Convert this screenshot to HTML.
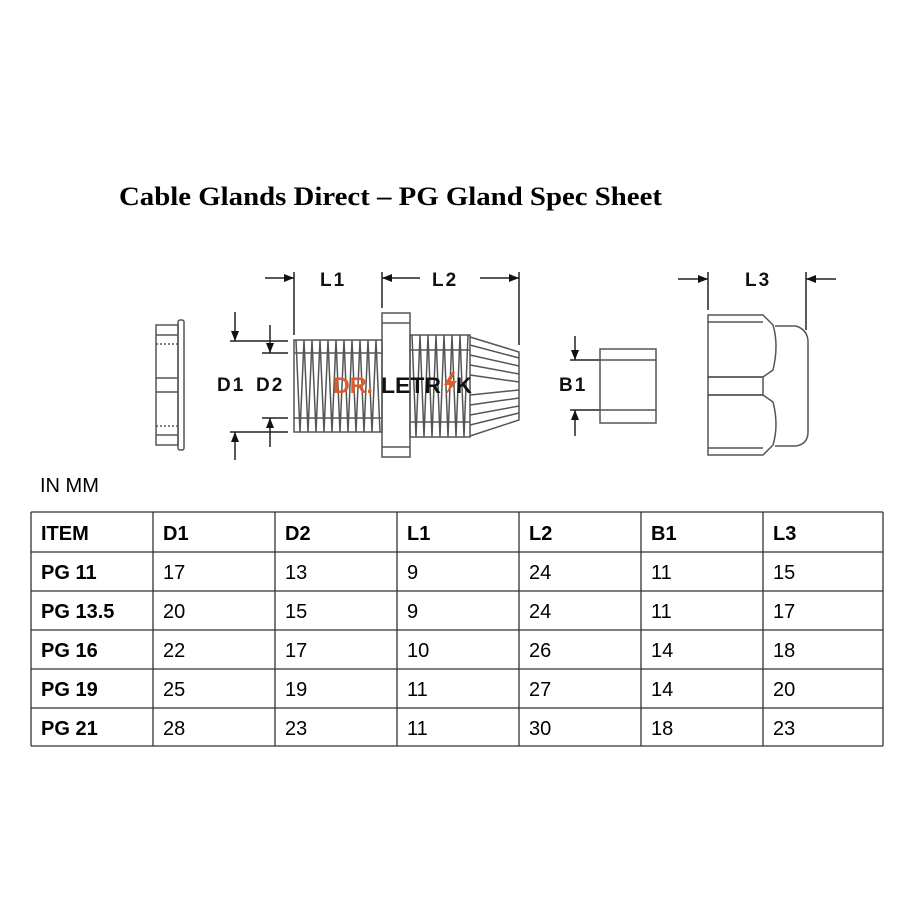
<!DOCTYPE html>
<html><head><meta charset="utf-8"><style>
html,body{margin:0;padding:0;background:#fff;}
svg{display:block;}
.t{font-family:"Liberation Sans",Arial,sans-serif;font-size:20px;fill:#000;}
.b{font-weight:bold;}
.d{font-family:"Liberation Sans",Arial,sans-serif;font-size:19px;font-weight:bold;fill:#111;letter-spacing:2px;}
</style></head><body>
<svg width="910" height="910" viewBox="0 0 910 910" xmlns="http://www.w3.org/2000/svg">
<rect width="910" height="910" fill="#fff"/>
<text x="119" y="205" font-family="Liberation Serif,serif" font-weight="bold" font-size="26" textLength="543" lengthAdjust="spacingAndGlyphs">Cable Glands Direct – PG Gland Spec Sheet</text>

<g stroke="#555" stroke-width="1.5" fill="none">
<rect x="156" y="325" width="22" height="120"/>
<rect x="178" y="320" width="6" height="130" rx="2"/>
<line x1="156" y1="335" x2="178" y2="335"/><line x1="156" y1="435" x2="178" y2="435"/>
<line x1="156" y1="378" x2="178" y2="378"/><line x1="156" y1="392" x2="178" y2="392"/>
<line x1="156" y1="344" x2="178" y2="344" stroke-dasharray="2,2"/><line x1="156" y1="426" x2="178" y2="426" stroke-dasharray="2,2"/>
<rect x="294" y="340" width="88" height="92"/>
<line x1="294" y1="353" x2="382" y2="353"/><line x1="294" y1="418" x2="382" y2="418"/>
<path d="M296 340 L300 432 L304 340 L308 432 L312 340 L316 432 L320 340 L324 432 L328 340 L332 432 L336 340 L340 432 L344 340 L348 432 L352 340 L356 432 L360 340 L364 432 L368 340 L372 432 L376 340 L380 432"/>
<rect x="382" y="313" width="28" height="144"/>
<line x1="382" y1="323" x2="410" y2="323"/><line x1="382" y1="447" x2="410" y2="447"/>
<rect x="410" y="335" width="60" height="102"/>
<line x1="410" y1="350" x2="470" y2="350"/><line x1="410" y1="422" x2="470" y2="422"/>
<path d="M412 335 L416 437 L420 335 L424 437 L428 335 L432 437 L436 335 L440 437 L444 335 L448 437 L452 335 L456 437 L460 335 L464 437 L468 335"/>
<path d="M470 337 L519 352 L519 420 L470 436"/>
<path d="M470 345 L519 358 M470 355 L519 366 M470 365 L519 374 M470 375 L519 382 M470 395 L519 390 M470 405 L519 398 M470 415 L519 406 M470 425 L519 413"/>
<g stroke="#222">
<line x1="294" y1="272" x2="294" y2="335"/><line x1="382" y1="272" x2="382" y2="308"/><line x1="519" y1="272" x2="519" y2="345"/>
<line x1="265" y1="278" x2="294" y2="278"/><line x1="382" y1="278" x2="420" y2="278"/><line x1="480" y1="278" x2="519" y2="278"/>
<line x1="230" y1="341" x2="288" y2="341"/><line x1="230" y1="432" x2="288" y2="432"/>
<line x1="262" y1="353" x2="288" y2="353"/><line x1="262" y1="418" x2="288" y2="418"/>
<line x1="235" y1="312" x2="235" y2="341"/><line x1="235" y1="432" x2="235" y2="460"/>
<line x1="270" y1="325" x2="270" y2="353"/><line x1="270" y1="418" x2="270" y2="447"/>
<line x1="570" y1="360" x2="600" y2="360"/><line x1="570" y1="410" x2="600" y2="410"/>
<line x1="575" y1="336" x2="575" y2="360"/><line x1="575" y1="410" x2="575" y2="436"/>
<line x1="708" y1="272" x2="708" y2="310"/><line x1="806" y1="272" x2="806" y2="330"/>
<line x1="678" y1="279" x2="708" y2="279"/><line x1="806" y1="279" x2="836" y2="279"/>
</g>
<rect x="600" y="349" width="56" height="74"/>
<line x1="600" y1="360" x2="656" y2="360"/><line x1="600" y1="410" x2="656" y2="410"/>
<path d="M708 315 L763 315 L773 325 Q779 345 773 370 L763 377 L708 377 Z"/>
<path d="M708 395 L763 395 L773 402 Q779 425 773 445 L763 455 L708 455 Z"/>
<rect x="708" y="377" width="55" height="18"/>
<line x1="708" y1="322" x2="763" y2="322"/><line x1="708" y1="448" x2="763" y2="448"/>
<path d="M775 326 L796 326 Q808 330 808 342 L808 432 Q808 444 796 446 L775 446"/>
</g>
<g fill="#111">
<polygon points="294,278 284,274 284,282"/><polygon points="382,278 392,274 392,282"/><polygon points="519,278 509,274 509,282"/>
<polygon points="235,341 231,331 239,331"/><polygon points="235,432 231,442 239,442"/>
<polygon points="270,353 266,343 274,343"/><polygon points="270,418 266,428 274,428"/>
<polygon points="575,360 571,350 579,350"/><polygon points="575,410 571,420 579,420"/>
<polygon points="708,279 698,275 698,283"/><polygon points="806,279 816,275 816,283"/>
</g>
<text class="d" x="320" y="286">L1</text><text class="d" x="432" y="286">L2</text><text class="d" x="745" y="286">L3</text>
<text class="d" x="217" y="391">D1</text><text class="d" x="256" y="391">D2</text>
<text class="d" x="559" y="391">B1</text>
<text x="333" y="393" font-family="Liberation Sans,sans-serif" font-weight="bold" font-size="22" fill="#e05a2a" textLength="40" lengthAdjust="spacingAndGlyphs">DR.</text>
<text x="381" y="393" font-family="Liberation Sans,sans-serif" font-weight="bold" font-size="22" fill="#111" textLength="60" lengthAdjust="spacingAndGlyphs">LETR</text>
<polygon points="452,372 444,385 450,385 445,396 457,381 451,381 455,372" fill="#e05a2a"/>
<text x="456" y="393" font-family="Liberation Sans,sans-serif" font-weight="bold" font-size="22" fill="#111">K</text>

<text class="t" x="40" y="492">IN MM</text>
<g stroke="#333" stroke-width="1.3">
<line x1="31" y1="512" x2="883" y2="512"/><line x1="31" y1="552" x2="883" y2="552"/><line x1="31" y1="591" x2="883" y2="591"/>
<line x1="31" y1="630" x2="883" y2="630"/><line x1="31" y1="669" x2="883" y2="669"/><line x1="31" y1="708" x2="883" y2="708"/><line x1="31" y1="746" x2="883" y2="746"/>
<line x1="31" y1="512" x2="31" y2="746"/><line x1="153" y1="512" x2="153" y2="746"/><line x1="275" y1="512" x2="275" y2="746"/><line x1="397" y1="512" x2="397" y2="746"/>
<line x1="519" y1="512" x2="519" y2="746"/><line x1="641" y1="512" x2="641" y2="746"/><line x1="763" y1="512" x2="763" y2="746"/><line x1="883" y1="512" x2="883" y2="746"/>
</g>
<g class="t b">
<text x="41" y="540">ITEM</text><text x="163" y="540">D1</text><text x="285" y="540">D2</text><text x="407" y="540">L1</text><text x="529" y="540">L2</text><text x="651" y="540">B1</text><text x="773" y="540">L3</text>
<text x="41" y="579">PG 11</text><text x="41" y="618">PG 13.5</text><text x="41" y="657">PG 16</text><text x="41" y="696">PG 19</text><text x="41" y="735">PG 21</text>
</g>
<g class="t">
<text x="163" y="579">17</text><text x="285" y="579">13</text><text x="407" y="579">9</text><text x="529" y="579">24</text><text x="651" y="579">11</text><text x="773" y="579">15</text>
<text x="163" y="618">20</text><text x="285" y="618">15</text><text x="407" y="618">9</text><text x="529" y="618">24</text><text x="651" y="618">11</text><text x="773" y="618">17</text>
<text x="163" y="657">22</text><text x="285" y="657">17</text><text x="407" y="657">10</text><text x="529" y="657">26</text><text x="651" y="657">14</text><text x="773" y="657">18</text>
<text x="163" y="696">25</text><text x="285" y="696">19</text><text x="407" y="696">11</text><text x="529" y="696">27</text><text x="651" y="696">14</text><text x="773" y="696">20</text>
<text x="163" y="735">28</text><text x="285" y="735">23</text><text x="407" y="735">11</text><text x="529" y="735">30</text><text x="651" y="735">18</text><text x="773" y="735">23</text>
</g>
</svg>
</body></html>
